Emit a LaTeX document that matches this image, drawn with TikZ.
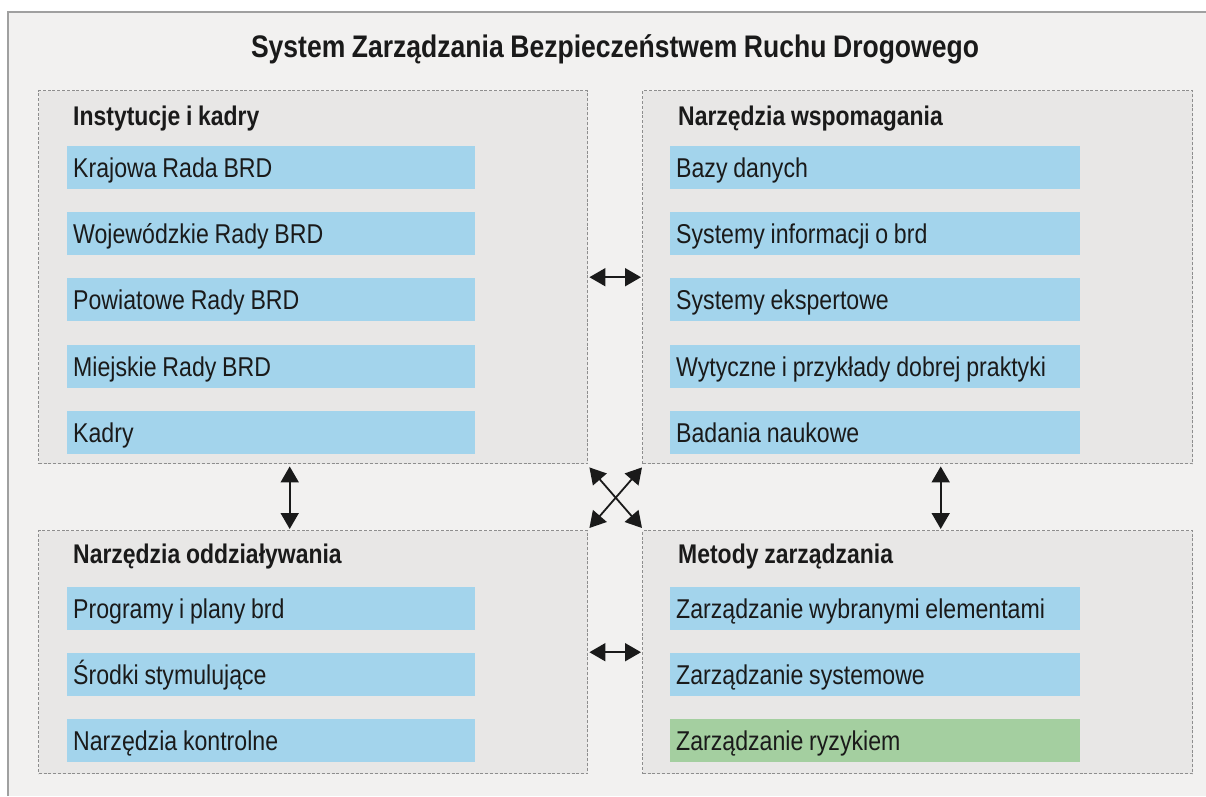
\documentclass[tikz,border=0pt]{standalone}
\usepackage{fontspec}
\setmainfont[FakeStretch=0.85,WordSpace=0.9]{Liberation Sans}
\usetikzlibrary{arrows.meta}
\definecolor{outerbg}{HTML}{F2F1F0}
\definecolor{panelbg}{HTML}{E8E7E6}
\definecolor{framegray}{HTML}{A0A0A0}
\definecolor{dashgray}{HTML}{8E8E8E}
\definecolor{barblue}{HTML}{A3D4EC}
\definecolor{bargreen}{HTML}{A4CFA0}
\definecolor{txt}{HTML}{1A1A1A}
\tikzset{
  panel/.style={draw=dashgray, dash pattern=on 3pt off 1.8pt, line width=1.4pt, fill=panelbg,
    inner sep=0pt, anchor=north west},
  head/.style={font=\bfseries\fontsize{27}{30}\selectfont, text=txt, inner sep=0pt, anchor=base west},
  bar/.style={fill=barblue, anchor=north west, minimum height=43pt, text width=396pt,
    inner xsep=6pt, inner ysep=0pt, text height=22pt, text depth=3pt, align=left,
    font=\fontsize{27.2}{30}\selectfont, text=txt,
    execute at begin node={\spaceskip=0pt\xspaceskip=0pt\relax}},
  greenbar/.style={bar, fill=bargreen},
  conn/.style={{Triangle[length=16pt,width=18pt]}-{Triangle[length=16pt,width=18pt]},
    line width=1.8pt, draw=txt}
}
\begin{document}
\begin{tikzpicture}[x=1pt,y=-1pt]
\useasboundingbox (0,0) rectangle (1206,796);
\fill[white] (0,0) rectangle (1206,796);
\fill[outerbg] (8,12) rectangle (1206,796);
\draw[framegray, line width=2pt] (8,796) -- (8,12) -- (1206,12);

\node[font=\bfseries\fontsize{31.2}{34}\selectfont, text=txt, inner sep=0pt, anchor=base] (title) at (615,57)
  {System Zarządzania Bezpieczeństwem Ruchu Drogowego};

% panels
\node[panel, minimum width=549pt, minimum height=373pt] (tl) at (38,90) {};
\node[panel, minimum width=550pt, minimum height=373pt] (tr) at (642,90) {};
\node[panel, minimum width=549pt, minimum height=243pt] (bl) at (38,530) {};
\node[panel, minimum width=550pt, minimum height=243pt] (br) at (642,530) {};

% headers
\node[head] (tlh) at (73,125) {Instytucje i kadry};
\node[head] (trh) at (678,125) {Narzędzia wspomagania};
\node[head] (blh) at (73,563) {Narzędzia oddziaływania};
\node[head] (brh) at (678,563) {Metody zarządzania};

% top-left items
\node[bar] (tl1) at (67,146) {Krajowa Rada BRD};
\node[bar] (tl2) at (67,212) {Wojewódzkie Rady BRD};
\node[bar] (tl3) at (67,278) {Powiatowe Rady BRD};
\node[bar] (tl4) at (67,345) {Miejskie Rady BRD};
\node[bar] (tl5) at (67,411) {Kadry};

% top-right items
\node[bar, text width=398pt] (tr1) at (670,146) {Bazy danych};
\node[bar, text width=398pt] (tr2) at (670,212) {Systemy informacji o brd};
\node[bar, text width=398pt] (tr3) at (670,278) {Systemy ekspertowe};
\node[bar, text width=398pt] (tr4) at (670,345) {Wytyczne i przykłady dobrej praktyki};
\node[bar, text width=398pt] (tr5) at (670,411) {Badania naukowe};

% bottom-left items
\node[bar] (bl1) at (67,587) {Programy i plany brd};
\node[bar] (bl2) at (67,653) {Środki stymulujące};
\node[bar] (bl3) at (67,719) {Narzędzia kontrolne};

% bottom-right items
\node[bar, text width=398pt] (br1) at (670,587) {Zarządzanie wybranymi elementami};
\node[bar, text width=398pt] (br2) at (670,653) {Zarządzanie systemowe};
\node[greenbar, text width=398pt] (br3) at (670,719) {Zarządzanie ryzykiem};

% connectors
\draw[conn] ([xshift=1pt]tl.east) -- ([xshift=-1pt]tr.west);
\draw[conn] ([xshift=1pt]bl.east) -- ([xshift=-1pt]br.west);
\draw[conn] ([xshift=-23.5pt,yshift=-2pt]tl.south) -- ([xshift=-23.5pt,yshift=1pt]bl.north);
\draw[conn] ([xshift=23pt,yshift=-2pt]tr.south) -- ([xshift=23pt,yshift=1pt]br.north);
\draw[conn] ([xshift=1pt,yshift=-3pt]tl.south east) -- ([yshift=2pt]br.north west);
\draw[conn] ([yshift=-3pt]tr.south west) -- ([xshift=1pt,yshift=2pt]bl.north east);
\end{tikzpicture}
\end{document}
